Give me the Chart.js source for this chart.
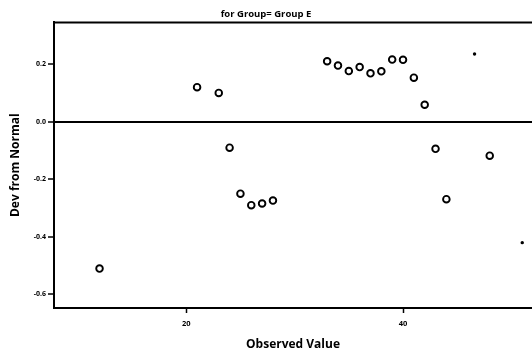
<!DOCTYPE html>
<html>
<head>
<meta charset="utf-8">
<script src="https://cdn.jsdelivr.net/npm/chart.js@4"></script>
<style>
  html, body { margin: 0; padding: 0; background: #fff; }
  #wrap { width: 532px; height: 354px; }
</style>
</head>
<body>
<div id="wrap"><canvas id="c" width="532" height="354"></canvas></div>
<script>
// Data
const observedValues = [12, 21, 23, 24, 25, 26, 27, 28, 33, 34, 35, 36, 37, 38, 39, 40, 41, 42, 43, 44, 48];
const devFromNormal  = [-0.51, 0.12, 0.10, -0.09, -0.25, -0.29, -0.284, -0.274, 0.21, 0.195, 0.176, 0.19, 0.168, 0.175, 0.216, 0.215, 0.153, 0.059, -0.094, -0.269, -0.118];
const extraObserved  = [46.6, 51.0];
const extraDev       = [0.235, -0.42];
const xTickValues = [20, 40];
const yTickValues = [-0.6, -0.4, -0.2, 0.0, 0.2];
const yTickLabels = ['-0.6', '-0.4', '-0.2', '0.0', '0.2'];
const chartTitle = 'for Group= Group E';
const xTitle = 'Observed Value';
const yTitle = 'Dev from Normal';

const mainPoints = observedValues.map((x, i) => ({ x: x, y: devFromNormal[i] }));
const extraPoints = extraObserved.map((x, i) => ({ x: x, y: extraDev[i] }));

const topBorder = {
  id: 'topBorder',
  afterDraw(chart) {
    const { ctx, chartArea } = chart;
    ctx.save();
    ctx.strokeStyle = '#000';
    ctx.lineWidth = 2;
    ctx.beginPath();
    ctx.moveTo(chartArea.left - 1, chartArea.top);
    ctx.lineTo(chartArea.right, chartArea.top);
    ctx.stroke();
    ctx.restore();
  }
};

new Chart(document.getElementById('c'), {
  type: 'scatter',
  data: {
    datasets: [
      {
        data: mainPoints,
        pointStyle: 'circle',
        pointRadius: 3.3,
        pointBorderWidth: 1.9,
        pointBorderColor: '#000',
        pointBackgroundColor: '#fff',
        showLine: false
      },
      {
        data: extraPoints,
        pointStyle: 'circle',
        pointRadius: 1.7,
        pointBorderWidth: 0,
        pointBackgroundColor: '#000',
        showLine: false
      }
    ]
  },
  options: {
    responsive: false,
    animation: false,
    devicePixelRatio: 1,
    layout: { autoPadding: false, padding: { left: 0, right: 0, top: 0, bottom: 0 } },
    plugins: {
      legend: { display: false },
      tooltip: { enabled: false },
      title: {
        display: true,
        text: chartTitle,
        color: '#000',
        font: { family: 'Open Sans', size: 9.5, weight: 'bold' },
        padding: { top: 9, bottom: 2 }
      }
    },
    scales: {
      x: {
        type: 'linear',
        min: 7.8,
        max: 51.9,
        afterBuildTicks: (scale) => { scale.ticks = xTickValues.map(v => ({ value: v })); },
        afterFit: (scale) => { scale.height = 46; scale.paddingLeft = 0; scale.paddingRight = 0; },
        ticks: {
          color: '#000',
          font: { family: 'Open Sans', size: 7.5, weight: 'bold' },
          padding: 6,
          maxRotation: 0,
          callback: (v) => String(v)
        },
        grid: {
          drawOnChartArea: false,
          drawTicks: true,
          tickLength: 5,
          tickColor: '#000',
          tickWidth: 1.5
        },
        border: { display: true, color: '#000', width: 2 },
        title: {
          display: true,
          text: xTitle,
          color: '#000',
          font: { family: 'Open Sans', size: 12, weight: 'bold' },
          padding: { top: 4, bottom: 2 }
        }
      },
      y: {
        type: 'linear',
        min: -0.647,
        max: 0.345,
        afterBuildTicks: (scale) => { scale.ticks = yTickValues.map(v => ({ value: v })); },
        afterFit: (scale) => { scale.width = 54; },
        ticks: {
          color: '#000',
          font: { family: 'Open Sans', size: 7, weight: 'bold' },
          padding: 2,
          callback: (v) => {
            const i = yTickValues.findIndex(t => Math.abs(t - v) < 1e-9);
            return i >= 0 ? yTickLabels[i] : '';
          }
        },
        grid: {
          drawOnChartArea: true,
          color: (ctx) => (ctx.tick && Math.abs(ctx.tick.value) < 1e-9) ? '#000' : 'rgba(0,0,0,0)',
          lineWidth: 2,
          drawTicks: true,
          tickLength: 6,
          tickColor: '#000',
          tickWidth: 1.5
        },
        border: { display: true, color: '#000', width: 2 },
        title: {
          display: true,
          text: yTitle,
          color: '#000',
          font: { family: 'Open Sans', size: 12, weight: 'bold' },
          padding: { top: 8, bottom: 0 }
        }
      }
    }
  },
  plugins: [topBorder]
});
</script>
</body>
</html>
